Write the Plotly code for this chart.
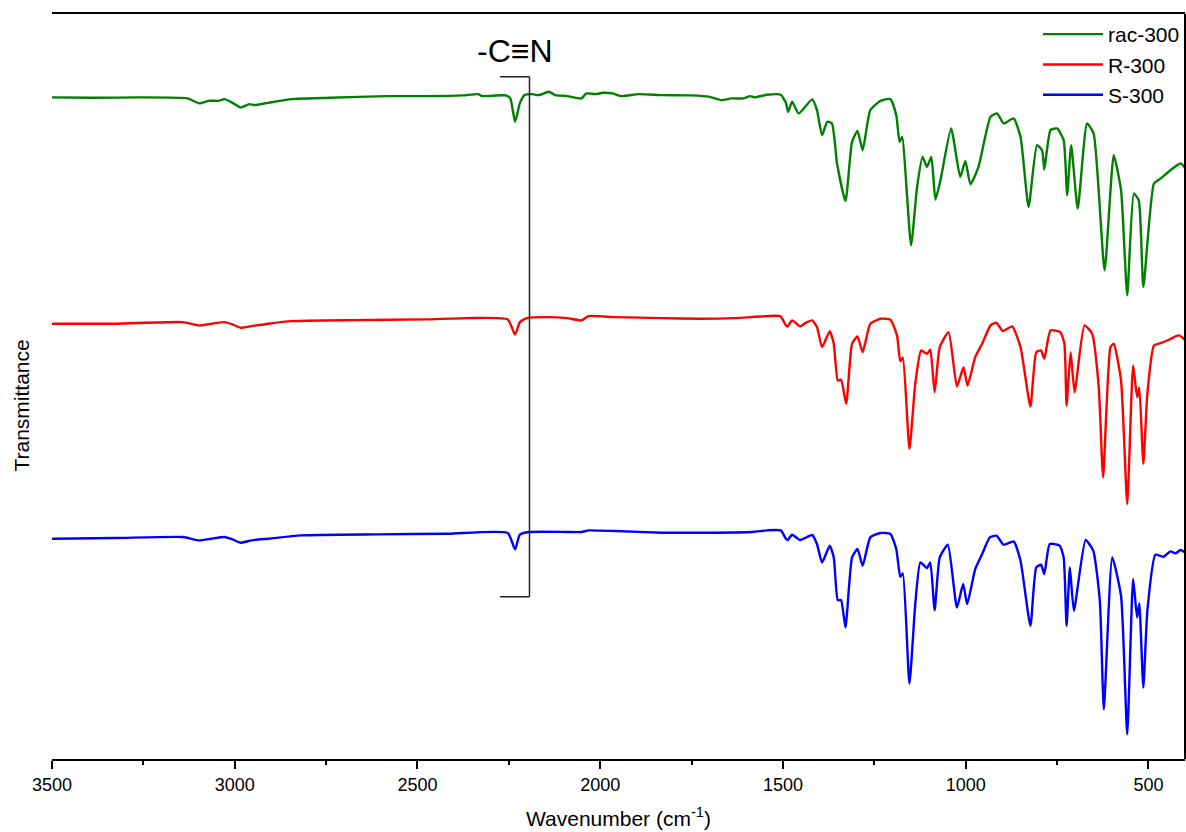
import plotly.graph_objects as go

# ---------------- data ----------------
# Transmittance in arbitrary units (curves are vertically offset as in the figure)
wn_rac = [3500, 3389, 3259, 3129, 3097, 3071, 3045, 3028, 3006, 2984, 2960, 2945, 2909, 2844,
          2740, 2584, 2480, 2376, 2334, 2324, 2259, 2246, 2233, 2220, 2207, 2187, 2168, 2140,
          2123, 2090, 2051, 2038, 2012, 1993, 1967, 1941, 1895, 1830, 1752, 1700, 1668, 1642,
          1609, 1590, 1577, 1544, 1506, 1492, 1486,
          1475, 1457, 1420, 1407, 1393, 1379, 1366, 1352, 1329, 1311, 1296, 1282, 1261, 1233,
          1206, 1190, 1181, 1174, 1149.5, 1133, 1118, 1106, 1094, 1083, 1069, 1040, 1015, 1001,
          987, 965, 932, 914, 896, 869, 850, 828, 805, 791, 785, 768, 750, 732, 722.5, 711.5,
          693.5, 668, 650, 620, 595, 575, 558, 540, 526.5, 514, 485, 467, 440, 412, 396]
t_rac = [66.07, 66.03, 66.07, 65.97, 65.47, 65.73, 65.73, 65.9, 65.53, 65.07, 65.4, 65.3, 65.53, 65.9,
         66.03, 66.2, 66.2, 66.27, 66.4, 66.2, 66.27, 65.97, 63.63, 65.47, 66.3, 66.4, 66.3, 66.63,
         66.3, 66.2, 65.97, 66.47, 66.4, 66.53, 66.47, 66.2, 66.4, 66.3, 66.27, 66.13, 65.8, 65.97,
         65.97, 66.2, 66.07, 66.33, 66.33, 65.53, 64.63,
         65.63, 64.47, 65.87, 64.8, 62.3, 63.63, 63.47, 59.47, 55.73, 61.63, 62.73, 60.8, 64.8, 65.73,
         65.9, 64.3, 61.63, 62.13, 51.3, 57.13, 60.13, 59.13, 60.13, 55.87, 57.8, 62.97, 58.13, 59.73,
         57.4, 59.13, 64.13, 64.47, 63.47, 63.97, 62.13, 55.13, 61.3, 60.8, 58.87, 62.8, 62.97, 61.8,
         56.3, 61.3, 54.97, 63.47, 62.47, 48.8, 60.3, 56.8, 46.3, 56.47, 55.8, 47.13, 57.47, 57.97,
         58.8, 59.47, 58.87]

wn_r = [3500, 3324, 3142, 3097, 3064, 3028, 3006, 2984, 2954, 2909, 2844, 2675, 2480, 2363,
        2253, 2233, 2220, 2201, 2142, 2090, 2051, 2032, 1960, 1830, 1726, 1635, 1544, 1507, 1492,
        1487, 1475, 1453, 1439, 1420, 1407, 1393, 1372, 1361, 1350, 1341, 1327, 1311, 1296, 1282,
        1261, 1233, 1206, 1188, 1179, 1172, 1154, 1138, 1122, 1106, 1097, 1085, 1071, 1047, 1024,
        1006, 995, 974, 955, 932, 916, 898, 873, 850, 823, 807, 794, 785, 768, 741, 730, 724, 713,
        702, 675, 654, 636, 624, 604, 595, 575, 558, 542, 531, 525, 514, 503, 485, 467, 444, 417, 396]
t_r = [43.47, 43.47, 43.63, 43.3, 43.47, 43.63, 43.4, 43.07, 43.23, 43.47, 43.73, 43.83, 43.9, 44.03,
       43.9, 42.37, 43.63, 44.03, 44.13, 44.03, 43.8, 44.23, 44.13, 44.03, 43.97, 44.03, 44.23, 44.23, 43.3,
       43.2, 43.8, 43.2, 43.53, 43.8, 43.13, 41.13, 42.73, 41.47, 37.8, 37.87, 35.47, 41.47, 42.2, 40.63,
       43.47, 43.97, 43.87, 42.3, 39.73, 40.07, 30.97, 37.47, 40.8, 40.47, 40.87, 36.63, 41.13, 42.63, 37.2,
       39.13, 37.3, 40.13, 41.47, 43.3, 43.57, 42.73, 43.2, 41.13, 35.2, 40.63, 40.8, 39.97, 42.8, 42.63,
       41.47, 35.3, 40.63, 36.63, 43.3, 42.47, 37.13, 28.13, 41.13, 41.47, 37.8, 25.47, 39.3, 36.13, 37.07,
       29.47, 36.47, 41.3, 41.53, 41.87, 42.3, 41.73]

wn_s = [3500, 3324, 3142, 3097, 3064, 3028, 3006, 2984, 2954, 2909, 2818, 2610, 2415, 2253,
        2233, 2220, 2194, 2090, 2051, 2032, 1960, 1830, 1700, 1584, 1544, 1506, 1492,
        1487, 1475, 1453, 1420, 1407, 1393, 1372, 1361, 1350, 1341, 1329, 1311, 1296, 1282,
        1261, 1233, 1206, 1190, 1179, 1172, 1154, 1138, 1124, 1106, 1097, 1085, 1071, 1049, 1024,
        1007, 996, 974, 955, 934, 916, 896, 869, 850, 823, 807, 794, 785, 770, 743, 732, 724, 715,
        704, 672, 651, 633, 622, 599, 575, 558, 542, 531, 525, 514, 503, 481, 458, 440, 426, 412, 396]
t_s = [22.0, 22.07, 22.17, 21.83, 22.0, 22.17, 21.93, 21.6, 21.83, 22.0, 22.33, 22.43, 22.5, 22.57,
       20.93, 22.4, 22.67, 22.67, 22.67, 22.83, 22.77, 22.6, 22.6, 22.67, 22.83, 22.83, 22.0,
       21.87, 22.4, 21.87, 22.37, 21.47, 19.63, 21.3, 20.13, 15.87, 15.87, 13.13, 20.13, 20.97, 19.3,
       22.13, 22.57, 22.47, 20.97, 18.2, 18.53, 7.53, 15.47, 19.63, 19.07, 19.63, 14.87, 20.13, 21.4, 15.13,
       17.47, 15.47, 18.97, 20.47, 22.13, 22.3, 21.4, 21.73, 19.8, 13.3, 19.13, 19.4, 18.47, 21.47, 21.3,
       20.13, 13.3, 19.13, 14.8, 21.87, 20.8, 15.8, 4.97, 20.13, 16.3, 2.47, 17.97, 14.13, 15.53, 7.13,
       14.8, 20.4, 20.2, 20.73, 20.53, 20.87, 20.53]

series_names = ["rac-300", "R-300", "S-300"]
series_colors = ["#008000", "#FF0000", "#0000FF"]
x_ticks = [3500, 3000, 2500, 2000, 1500, 1000, 500]

# bracket marking the C≡N band (wavenumber / transmittance units)
cn_label = "-C≡N"
cn_x = 2233
cn_bracket_x = [2274, 2193.5]
cn_bracket_y = [68.13, 16.2]

FONT = "Liberation Sans, Arial, sans-serif"

fig = go.Figure()
for wn, t, name, col in zip([wn_rac, wn_r, wn_s], [t_rac, t_r, t_s], series_names, series_colors):
    fig.add_trace(go.Scatter(x=wn, y=t, mode="lines", name=name,
                             line=dict(color=col, width=2.4, shape="spline", smoothing=0.5)))

# bracket
x0, x1 = cn_bracket_x
y0, y1 = cn_bracket_y
bracket_style = dict(color="#222222", width=1.5)
fig.add_shape(type="line", x0=x0, x1=x1, y0=y0, y1=y0, line=bracket_style)
fig.add_shape(type="line", x0=x1, x1=x1, y0=y0, y1=y1, line=bracket_style)
fig.add_shape(type="line", x0=x0, x1=x1, y0=y1, y1=y1, line=bracket_style)
fig.add_annotation(x=cn_x, y=70.7, text=cn_label, showarrow=False,
                   font=dict(family=FONT, size=32, color="black"),
                   xanchor="center", yanchor="middle")

# right frame line
fig.add_shape(type="line", xref="paper", yref="paper", x0=1, x1=1, y0=0, y1=1,
              line=dict(color="black", width=2))

# y title
fig.add_annotation(xref="paper", yref="paper", x=-0.027, y=0.475, text="Transmittance",
                   textangle=-90, showarrow=False, xanchor="center", yanchor="middle",
                   font=dict(family=FONT, size=21, color="black"))

fig.update_layout(
    width=1186, height=832,
    margin=dict(l=52, r=1, t=14, b=73),
    plot_bgcolor="white", paper_bgcolor="white",
    font=dict(family=FONT, color="black"),
    showlegend=True,
    legend=dict(x=1, y=1, xanchor="right", yanchor="top", bgcolor="rgba(0,0,0,0)",
                font=dict(family=FONT, size=21, color="black"), tracegroupgap=0,
                itemwidth=60),
    xaxis=dict(range=[3500, 400], tickvals=x_ticks, ticks="outside", ticklen=8, tickwidth=2,
               tickcolor="black", showline=True, linecolor="black", linewidth=2, mirror=True,
               showgrid=False, zeroline=False,
               tickfont=dict(family=FONT, size=18, color="black"),
               ticklabelstandoff=0,
               minor=dict(dtick=250, ticks="outside", ticklen=4, tickwidth=2, tickcolor="black",
                          showgrid=False),
               title=dict(text="Wavenumber (cm<sup>-1</sup>)", standoff=18,
                          font=dict(family=FONT, size=21, color="black"))),
    yaxis=dict(range=[0, 74.4], showline=False, showticklabels=False, ticks="",
               showgrid=False, zeroline=False),
)

fig.write_html("out.html")
